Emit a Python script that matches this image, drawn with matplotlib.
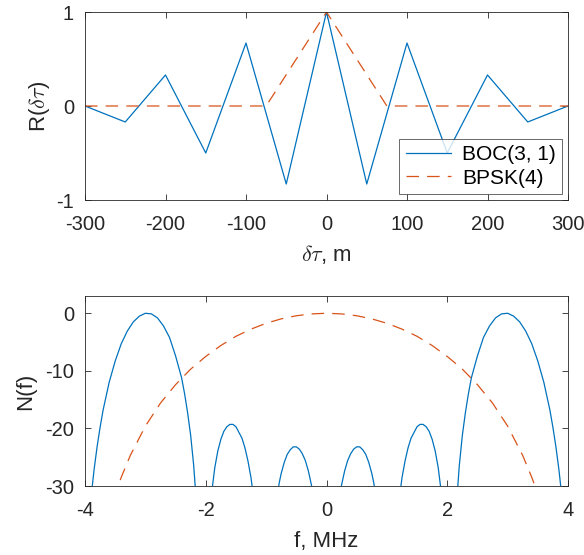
import matplotlib
matplotlib.use("Agg")
import matplotlib.pyplot as plt

plt.rcParams['font.family'] = ['Liberation Sans', 'DejaVu Sans']
plt.rcParams['mathtext.fontset'] = 'cm'
plt.rcParams['axes.unicode_minus'] = False

# ---- top: correlation functions ----
tau_boc = [-300, -250, -200, -150, -100, -50, 0, 50, 100, 150, 200, 250, 300]
r_boc = [0, -0.17, 0.33, -0.5, 0.67, -0.83, 1, -0.83, 0.67, -0.5, 0.33, -0.17, 0]
tau_bpsk = [-300, -75, 0, 75, 300]
r_bpsk = [0, 0, 1, 0, 0]

# ---- bottom: spectra (dB) ----
f_boc = [-3.95, -3.9, -3.85, -3.8, -3.75, -3.7, -3.6, -3.5, -3.4, -3.3, -3.2, -3.1, -3.0,
         -2.9, -2.8, -2.7, -2.6, -2.5, -2.4, -2.35, -2.3, -2.25, -2.2, -2.15,
         -1.9, -1.85, -1.8, -1.75, -1.7, -1.65, -1.6, -1.55, -1.5, -1.4, -1.35, -1.3, -1.25, -1.2,
         -0.8, -0.78, -0.75, -0.7, -0.65, -0.6, -0.55, -0.5, -0.45, -0.4, -0.35, -0.3, -0.25, -0.2,
         0.2, 0.25, 0.3, 0.35, 0.4, 0.45, 0.5, 0.55, 0.6, 0.65, 0.7, 0.75, 0.78, 0.8,
         1.2, 1.25, 1.3, 1.35, 1.4, 1.5, 1.55, 1.6, 1.65, 1.7, 1.75, 1.8, 1.85, 1.9,
         2.15, 2.2, 2.25, 2.3, 2.35, 2.4, 2.5, 2.6, 2.7, 2.8, 2.9, 3.0,
         3.1, 3.2, 3.3, 3.4, 3.5, 3.6, 3.7, 3.75, 3.8, 3.85, 3.9, 3.95]
n_boc = [-38.2, -32.0, -27.2, -23.2, -19.8, -16.8, -12.0, -8.3, -5.3, -3.1, -1.5, -0.5, 0.0,
         -0.1, -0.8, -2.2, -4.2, -7.4, -11.2, -14.0, -17.3, -21.2, -26.4, -33.6,
         -31.0, -26.8, -23.9, -21.9, -20.5, -19.7, -19.3, -19.3, -19.7, -21.7, -23.4, -25.7, -28.6, -32.6,
         -30.5, -29.3, -27.8, -25.9, -24.5, -23.7, -23.2, -23.2, -23.6, -24.4, -25.6, -27.4, -29.8, -33.1,
         -33.1, -29.8, -27.4, -25.6, -24.4, -23.6, -23.2, -23.2, -23.7, -24.5, -25.9, -27.8, -29.3, -30.5,
         -32.6, -28.6, -25.7, -23.4, -21.7, -19.7, -19.3, -19.3, -19.7, -20.5, -21.9, -23.9, -26.8, -31.0,
         -33.6, -26.4, -21.2, -17.3, -14.0, -11.2, -7.4, -4.2, -2.2, -0.8, -0.1, 0.0,
         -0.5, -1.5, -3.1, -5.3, -8.3, -12.0, -16.8, -19.8, -23.2, -27.2, -32.0, -38.2]
f_bpsk = [-3.7, -3.5, -3.45, -3.4, -3.25, -3.0, -2.75, -2.5, -2.25, -2.0, -1.75, -1.5, -1.25,
          -1.0, -0.75, -0.5, -0.25, 0.0, 0.25, 0.5, 0.75, 1.0, 1.25, 1.5, 1.75, 2.0, 2.25,
          2.5, 2.75, 3.0, 3.25, 3.4, 3.45, 3.5, 3.7]
n_bpsk = [-39.3, -31.5, -29.9, -28.5, -24.7, -19.6, -15.6, -12.4, -9.7, -7.5, -5.6, -4.0, -2.75,
          -1.74, -0.97, -0.43, -0.11, 0.0, -0.11, -0.43, -0.97, -1.74, -2.75, -4.0, -5.6, -7.5, -9.7,
          -12.4, -15.6, -19.6, -24.7, -28.5, -29.9, -31.5, -39.3]

blue = '#0072BD'
orange = '#D95319'
axcol = '#262626'
dash = (0, (10, 6.5))

fig = plt.figure(figsize=(5.84, 5.55), dpi=100)
ax1 = fig.add_axes([85/584, 1-200/555, 483/584, 188/555])
ax2 = fig.add_axes([85/584, 1-486/555, 483/584, 190/555])

ax1.plot(tau_boc, r_boc, color=blue, lw=0.9, label='BOC(3, 1)')
ax1.plot(tau_bpsk, r_bpsk, color=orange, lw=0.9, ls=dash, label='BPSK(4)')
ax1.set_xlim(-300, 300)
ax1.set_ylim(-1, 1)
ax1.set_xticks([-300, -200, -100, 0, 100, 200, 300])
ax1.set_yticks([-1, 0, 1])
ax1.set_xlabel(r'$\delta\tau$, m', fontsize=16, color=axcol, labelpad=6)
ax1.set_ylabel(r'R($\delta\tau$)', fontsize=16, color=axcol, labelpad=3)
leg = ax1.legend(loc='lower right', fontsize=15, frameon=True, fancybox=False,
                 edgecolor=axcol, handlelength=2.2, borderpad=0.3, labelspacing=0.2,
                 handletextpad=0.5, borderaxespad=0.3)
leg.get_frame().set_linewidth(0.6)

ax2.plot(f_boc, n_boc, color=blue, lw=0.9)
ax2.plot(f_bpsk, n_bpsk, color=orange, lw=0.9, ls=dash)
ax2.set_xlim(-4, 4)
ax2.set_ylim(-30, 3)
ax2.set_xticks([-4, -2, 0, 2, 4])
ax2.set_yticks([-30, -20, -10, 0])
ax2.set_xlabel('f, MHz', fontsize=16, color=axcol, labelpad=8)
ax2.set_ylabel('N(f)', fontsize=16, color=axcol, labelpad=6)

for ax in (ax1, ax2):
    for s in ax.spines.values():
        s.set_color(axcol)
        s.set_linewidth(0.6)
    ax.tick_params(direction='in', top=True, right=True, length=4, width=0.6,
                   colors=axcol, labelsize=14.5)
    ax.tick_params(axis='x', pad=11)
    ax.tick_params(axis='y', pad=8)

fig.savefig('out.png', dpi=100)
